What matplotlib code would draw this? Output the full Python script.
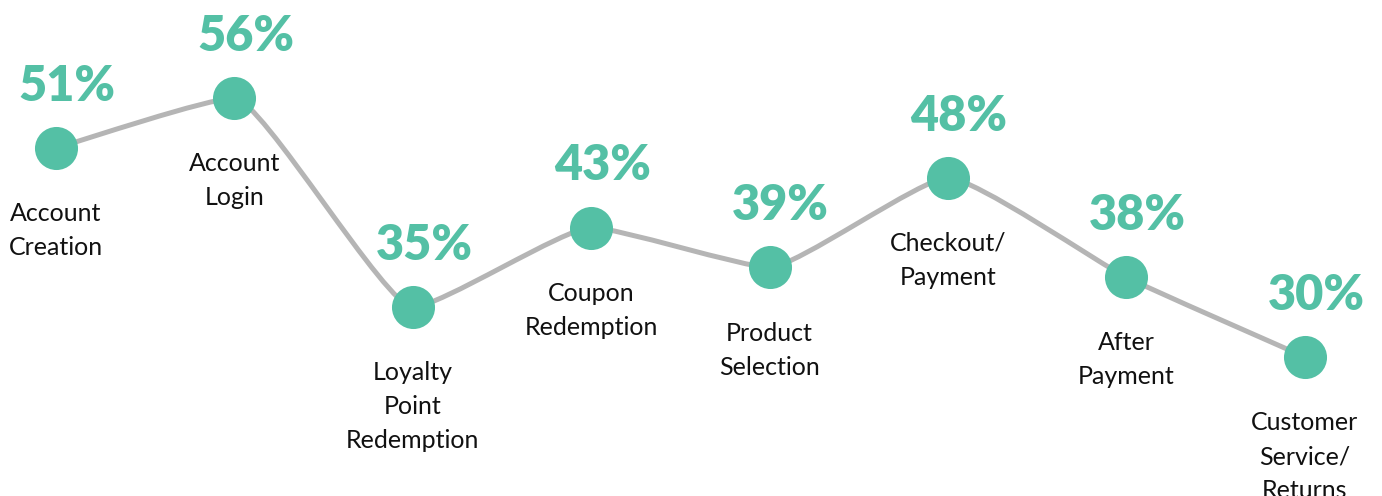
import numpy as np
import matplotlib.pyplot as plt
from matplotlib.path import Path
from matplotlib.patches import PathPatch

# data
stages = ["Account\nCreation", "Account\nLogin", "Loyalty\nPoint\nRedemption",
          "Coupon\nRedemption", "Product\nSelection", "Checkout/\nPayment",
          "After\nPayment", "Customer\nService/\nReturns"]
values = [51, 56, 35, 43, 39, 48, 38, 30]

teal = "#54C0A5"
grey = "#b5b5b5"

fig = plt.figure(figsize=(13.82, 4.96), dpi=100)
ax = fig.add_axes([0, 0, 1, 1])
ax.set_xlim(-56 / 178.4, (1382 - 56) / 178.4)
ax.set_ylim(16.02, 65.87)
ax.axis("off")

x = np.arange(len(values), dtype=float)
y = np.array(values, dtype=float)

# tangents: flat at peaks/troughs, else mean of neighbour slopes
s = np.diff(y) / np.diff(x)
m = np.zeros_like(y)
m[0], m[-1] = s[0], s[-1]
for i in range(1, len(y) - 1):
    if s[i - 1] * s[i] > 0:
        m[i] = 2 * s[i - 1] * s[i] / (s[i - 1] + s[i])

f = 0.15
verts = [(x[0], y[0])]
codes = [Path.MOVETO]
for i in range(len(y) - 1):
    dx = x[i + 1] - x[i]
    verts += [(x[i] + f * dx, y[i] + f * dx * m[i]),
              (x[i + 1] - f * dx, y[i + 1] - f * dx * m[i + 1]),
              (x[i + 1], y[i + 1])]
    codes += [Path.CURVE4] * 3
ax.add_patch(PathPatch(Path(verts, codes), facecolor="none",
                       edgecolor=grey, lw=3.6, capstyle="round", zorder=1))

ax.plot(x, y, "o", ms=31, color=teal, mec="none", zorder=2)

for xi, yi, lab in zip(x, y, stages):
    ax.annotate(f"{yi:.0f}%", (xi, yi), xytext=(8, 34), textcoords="offset points",
                ha="center", va="baseline", fontsize=35, fontweight="heavy",
                family="Lato", color=teal)
    ax.annotate(lab, (xi, yi), xytext=(0, -39), textcoords="offset points",
                ha="center", va="top", fontsize=18, family="Lato",
                color="#111111", linespacing=1.58)

plt.savefig("out.png", dpi=100)
